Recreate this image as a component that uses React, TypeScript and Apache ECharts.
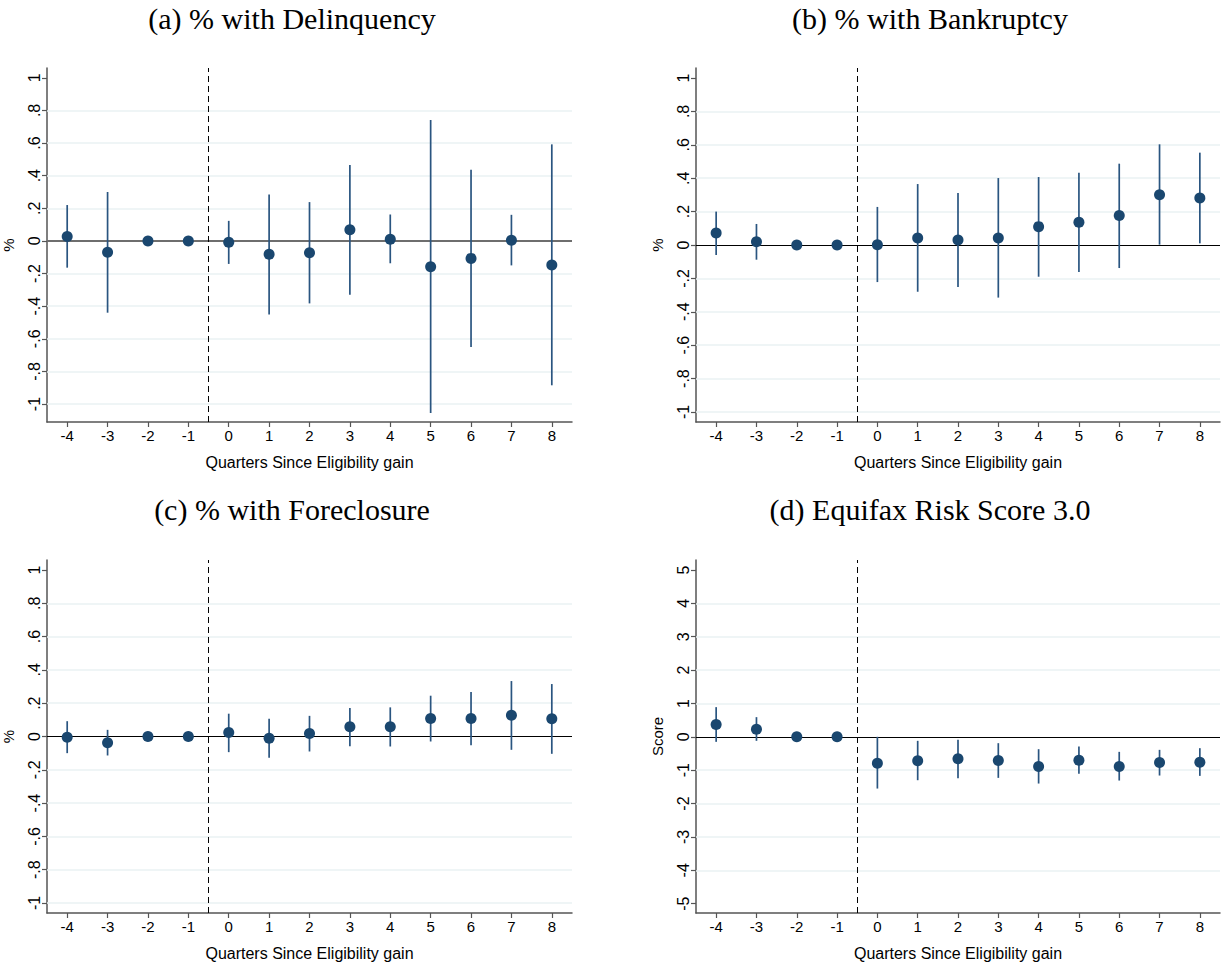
import React, { useEffect, useRef } from "react";
import * as echarts from "echarts";

const quarters = [-4, -3, -2, -1, 0, 1, 2, 3, 4, 5, 6, 7, 8];
const xTicks = [-4, -3, -2, -1, 0, 1, 2, 3, 4, 5, 6, 7, 8];
const pctTicks = [-1, -0.8, -0.6, -0.4, -0.2, 0, 0.2, 0.4, 0.6, 0.8, 1];
const scoreTicks = [-5, -4, -3, -2, -1, 0, 1, 2, 3, 4, 5];

// (a) Delinquency
const delinqEst = [0.027, -0.07, 0, 0, -0.008, -0.082, -0.072, 0.068, 0.01, -0.158, -0.107, 0.004, -0.148];
const delinqLo = [-0.164, -0.44, null, null, -0.141, -0.451, -0.383, -0.33, -0.137, -1.055, -0.65, -0.15, -0.885];
const delinqHi = [0.22, 0.3, null, null, 0.123, 0.285, 0.238, 0.465, 0.162, 0.742, 0.436, 0.16, 0.592];

// (b) Bankruptcy
const bankrEst = [0.072, 0.02, 0, 0, 0.002, 0.042, 0.03, 0.042, 0.11, 0.136, 0.176, 0.301, 0.281];
const bankrLo = [-0.06, -0.088, null, null, -0.222, -0.28, -0.251, -0.315, -0.19, -0.162, -0.138, 0.002, 0.01];
const bankrHi = [0.2, 0.126, null, null, 0.228, 0.365, 0.311, 0.401, 0.407, 0.433, 0.487, 0.603, 0.553];

// (c) Foreclosure
const foreclEst = [-0.004, -0.038, 0, 0, 0.024, -0.01, 0.018, 0.058, 0.058, 0.108, 0.108, 0.127, 0.106];
const foreclLo = [-0.1, -0.114, null, null, -0.094, -0.127, -0.09, -0.058, -0.06, -0.03, -0.052, -0.08, -0.104];
const foreclHi = [0.092, 0.04, null, null, 0.137, 0.106, 0.124, 0.171, 0.175, 0.245, 0.267, 0.333, 0.315];

// (d) Equifax Risk Score 3.0
const scoreEst = [0.37, 0.23, 0, 0, -0.79, -0.72, -0.66, -0.71, -0.89, -0.7, -0.89, -0.77, -0.76];
const scoreLo = [-0.15, -0.12, null, null, -1.55, -1.3, -1.24, -1.23, -1.4, -1.11, -1.31, -1.16, -1.17];
const scoreHi = [0.89, 0.59, null, null, 0.0, -0.12, -0.09, -0.19, -0.37, -0.29, -0.45, -0.39, -0.34];

const titles = [
  "(a) % with Delinquency",
  "(b) % with Bankruptcy",
  "(c) % with Foreclosure",
  "(d) Equifax Risk Score 3.0",
];
const yNames = ["%", "%", "%", "Score"];
const xName = "Quarters Since Eligibility gain";

const NAVY = "#1a476f";
const CI = "#2a5580";
const GRIDC = "#eaf2f3";
const AXISC = "#555555";
const SANS = "Liberation Sans, Arial, sans-serif";

export default function App() {
  const ref = useRef<HTMLDivElement>(null);
  useEffect(() => {
    document.body.style.margin = "0";
    if (!ref.current) return;
    const chart = echarts.init(ref.current, null, { renderer: "svg" });

    const panels = [
      { est: delinqEst, lo: delinqLo, hi: delinqHi, ticks: pctTicks, min: -1.11, max: 1.06, zeroColor: "#6e6e6e", zeroWidth: 2, gridTicks: [-1, -0.8, -0.6, -0.4, -0.2, 0.2, 0.4, 0.6, 0.8] },
      { est: bankrEst, lo: bankrLo, hi: bankrHi, ticks: pctTicks, min: -1.06, max: 1.06, zeroColor: "#000000", zeroWidth: 1, gridTicks: [-1, -0.8, -0.6, -0.4, -0.2, 0.2, 0.4, 0.6, 0.8] },
      { est: foreclEst, lo: foreclLo, hi: foreclHi, ticks: pctTicks, min: -1.06, max: 1.06, zeroColor: "#000000", zeroWidth: 1, gridTicks: [-1, -0.8, -0.6, -0.4, -0.2, 0.2, 0.4, 0.6, 0.8] },
      { est: scoreEst, lo: scoreLo, hi: scoreHi, ticks: scoreTicks, min: -5.28, max: 5.3, zeroColor: "#000000", zeroWidth: 1, gridTicks: [-4, -3, -2, -1, 1, 2, 3, 4] },
    ];

    const gridPos = [
      { left: 47, top: 68, width: 525, height: 354 },
      { left: 696, top: 68, width: 524, height: 354 },
      { left: 47, top: 560, width: 525, height: 354 },
      { left: 696, top: 560, width: 524, height: 353 },
    ];
    const titlePos = [
      { x: 287, y: -2 },
      { x: 925, y: -2 },
      { x: 287, y: 489 },
      { x: 925, y: 489 },
    ];

    const fmt = (v: number) => {
      const r = Math.round(v * 10) / 10;
      let s = String(r);
      s = s.replace(/^0\./, ".").replace(/^-0\./, "-.");
      return s;
    };

    const grid: any[] = [];
    const xAxis: any[] = [];
    const yAxis: any[] = [];
    const series: any[] = [];

    panels.forEach((p, i) => {
      grid.push({ ...gridPos[i], containLabel: false });
      xAxis.push({
        type: "value",
        gridIndex: i,
        min: -4.5,
        max: 8.5,
        name: xName,
        nameLocation: "middle",
        nameGap: 32,
        nameTextStyle: { fontFamily: SANS, fontSize: 16, color: "#000" },
        axisLine: { show: true, onZero: false, lineStyle: { color: AXISC, width: 1.5 } },
        axisTick: { show: true, length: 5, inside: false, customValues: xTicks, lineStyle: { color: AXISC, width: 1.2 } },
        axisLabel: { customValues: xTicks, fontFamily: SANS, fontSize: 15, color: "#000", margin: 6, formatter: (v: number) => String(v) },
        splitLine: { show: false },
      });
      yAxis.push({
        type: "value",
        gridIndex: i,
        min: p.min,
        max: p.max,
        name: yNames[i],
        nameLocation: "middle",
        nameGap: 31,
        nameRotate: 90,
        nameTextStyle: { fontFamily: SANS, fontSize: 15, color: "#000" },
        axisLine: { show: true, onZero: false, lineStyle: { color: AXISC, width: 1.5 } },
        axisTick: { show: true, length: 5, inside: false, customValues: p.ticks, lineStyle: { color: AXISC, width: 1.2 } },
        axisLabel: { customValues: p.ticks, rotate: 90, fontFamily: SANS, fontSize: 16, color: "#000", margin: 5, formatter: fmt },
        splitLine: { show: false },
      });

      series.push({
        type: "line",
        xAxisIndex: i,
        yAxisIndex: i,
        data: [],
        silent: true,
        z: 1,
        markLine: {
          silent: true,
          symbol: "none",
          z: 1,
          label: { show: false },
          animation: false,
          data: [
            ...p.gridTicks.map((g) => ({ yAxis: g, lineStyle: { color: GRIDC, width: 1.5, type: "solid" } })),
            { yAxis: 0, lineStyle: { color: p.zeroColor, width: p.zeroWidth, type: "solid" } },
            { xAxis: -0.5, lineStyle: { color: "#000", width: 1, type: [6, 4] } },
          ],
        },
      });

      const ciData = quarters
        .map((q, k) => [q, p.lo[k], p.hi[k]])
        .filter((d) => d[1] !== null && d[2] !== null);
      series.push({
        type: "custom",
        xAxisIndex: i,
        yAxisIndex: i,
        z: 10,
        silent: true,
        encode: { x: 0, y: [1, 2] },
        data: ciData,
        renderItem: (params: any, api: any) => {
          const x = api.value(0);
          const a = api.coord([x, api.value(1)]);
          const b = api.coord([x, api.value(2)]);
          return {
            type: "line",
            shape: { x1: a[0], y1: a[1], x2: b[0], y2: b[1] },
            style: { stroke: CI, lineWidth: 1.7 },
          };
        },
      });
      series.push({
        type: "scatter",
        xAxisIndex: i,
        yAxisIndex: i,
        z: 11,
        symbol: "circle",
        symbolSize: 11,
        itemStyle: { color: NAVY, opacity: 1 },
        data: quarters.map((q, k) => [q, p.est[k]]),
      });
    });

    const title = titles.map((t, i) => ({
      text: t,
      left: titlePos[i].x,
      top: titlePos[i].y,
      textAlign: "center",
      textStyle: { fontFamily: "Liberation Serif, Times New Roman, serif", fontSize: 30, fontWeight: "normal", color: "#000" },
    }));

    chart.setOption({
      animation: false,
      backgroundColor: "#ffffff",
      title,
      grid,
      xAxis,
      yAxis,
      series,
    });
    return () => chart.dispose();
  }, []);
  return <div ref={ref} style={{ width: 1225, height: 962 }} />;
}
